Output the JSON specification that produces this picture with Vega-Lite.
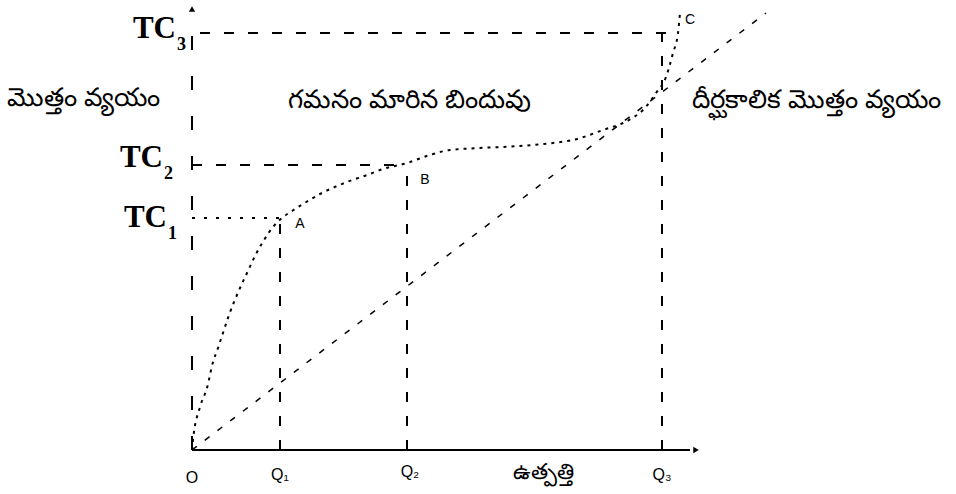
{
  "$schema": "https://vega.github.io/schema/vega-lite/v6.json",
  "width": 956,
  "height": 494,
  "autosize": {"type": "fit", "contains": "padding"},
  "padding": 0,
  "background": "white",
  "config": {"view": {"stroke": null}},
  "datasets": {
    "xaxis": [
      {"x": 0, "y": 0, "x2": 498, "y2": 0}
    ],
    "yaxis": [
      {"x": 0, "y": 0, "x2": 0, "y2": 438}
    ],
    "dotted": [
      {"x": 0, "y": 232, "x2": 88, "y2": 232}
    ],
    "dashed": [
      {"x": 0, "y": 285, "x2": 215, "y2": 285},
      {"x": 8, "y": 417, "x2": 486, "y2": 417},
      {"x": 88, "y": 0, "x2": 88, "y2": 232},
      {"x": 215, "y": 0, "x2": 215, "y2": 285},
      {"x": 470, "y": 0, "x2": 470, "y2": 417}
    ],
    "lrtc": [
      {"x": 0, "y": 0}, {"x": 1, "y": 10}, {"x": 8, "y": 43}, {"x": 15, "y": 62},
      {"x": 21, "y": 88}, {"x": 26, "y": 102}, {"x": 30, "y": 114}, {"x": 37, "y": 135},
      {"x": 48, "y": 162}, {"x": 55, "y": 177}, {"x": 63, "y": 194}, {"x": 72, "y": 210},
      {"x": 81, "y": 223}, {"x": 90, "y": 232}, {"x": 100, "y": 239}, {"x": 111, "y": 246},
      {"x": 128, "y": 256}, {"x": 155, "y": 268}, {"x": 175, "y": 275}, {"x": 191, "y": 281},
      {"x": 215, "y": 287}, {"x": 238, "y": 295}, {"x": 258, "y": 300}, {"x": 288, "y": 302},
      {"x": 328, "y": 304}, {"x": 361, "y": 307}, {"x": 381, "y": 310}, {"x": 411, "y": 320},
      {"x": 437, "y": 330}, {"x": 451, "y": 340}, {"x": 464, "y": 357}, {"x": 474, "y": 373},
      {"x": 481, "y": 397}, {"x": 486, "y": 417}, {"x": 488, "y": 437}
    ],
    "ray": [
      {"x": 0, "y": 0}, {"x": 574, "y": 437}
    ],
    "tc": [
      {"x": -16, "y": 412, "label": "TC", "sub": "3"},
      {"x": -29, "y": 283, "label": "TC", "sub": "2"},
      {"x": -25, "y": 223, "label": "TC", "sub": "1"}
    ],
    "telugu": [
      {"x": -185, "y": 352, "label": "మొత్తం వ్యయం"},
      {"x": 96, "y": 350, "label": "గమనం మారిన బిందువు"},
      {"x": 500, "y": 350, "label": "దీర్ఘకాలిక మొత్తం వ్యయం"}
    ],
    "output": [
      {"x": 321, "y": -22, "label": "ఉత్పత్తి"}
    ],
    "points": [
      {"x": 108, "y": 226, "label": "A"},
      {"x": 233, "y": 270, "label": "B"},
      {"x": 498, "y": 430, "label": "C"}
    ],
    "ticks": [
      {"x": 0, "y": -28, "label": "O"},
      {"x": 88, "y": -25, "label": "Q₁"},
      {"x": 218, "y": -22, "label": "Q₂"},
      {"x": 470, "y": -25, "label": "Q₃"}
    ]
  },
  "encoding": {
    "x": {"field": "x", "type": "quantitative", "axis": null, "scale": {"domain": [-192, 764], "nice": false, "zero": false}},
    "y": {"field": "y", "type": "quantitative", "axis": null, "scale": {"domain": [-44, 450], "nice": false, "zero": false}}
  },
  "layer": [
    {
      "data": {"name": "xaxis"},
      "mark": {"type": "rule", "color": "black", "strokeWidth": 2},
      "encoding": {"x2": {"field": "x2"}, "y2": {"field": "y2"}}
    },
    {
      "data": {"name": "yaxis"},
      "mark": {"type": "rule", "color": "black", "strokeWidth": 2, "strokeDash": [14, 26]},
      "encoding": {"x2": {"field": "x2"}, "y2": {"field": "y2"}}
    },
    {
      "data": {"values": [{"x": 504, "y": 0}]},
      "mark": {"type": "point", "shape": "triangle-right", "filled": true, "color": "black", "size": 40, "opacity": 1},
      "encoding": {}
    },
    {
      "data": {"values": [{"x": 0, "y": 441}]},
      "mark": {"type": "point", "shape": "triangle-up", "filled": true, "color": "black", "size": 40, "opacity": 1},
      "encoding": {}
    },
    {
      "data": {"name": "dotted"},
      "mark": {"type": "rule", "color": "black", "strokeWidth": 2, "strokeDash": [3, 9]},
      "encoding": {"x2": {"field": "x2"}, "y2": {"field": "y2"}}
    },
    {
      "data": {"name": "dashed"},
      "mark": {"type": "rule", "color": "black", "strokeWidth": 2, "strokeDash": [10, 14]},
      "encoding": {"x2": {"field": "x2"}, "y2": {"field": "y2"}}
    },
    {
      "data": {"name": "lrtc"},
      "mark": {"type": "line", "color": "black", "strokeWidth": 2, "strokeDash": [3, 5], "interpolate": "monotone"},
      "encoding": {}
    },
    {
      "data": {"name": "ray"},
      "mark": {"type": "line", "color": "black", "strokeWidth": 1.5, "strokeDash": [6, 10]},
      "encoding": {}
    },
    {
      "data": {"name": "tc"},
      "mark": {"type": "text", "font": "Liberation Serif", "fontWeight": "bold", "fontSize": 31, "align": "right", "baseline": "alphabetic", "color": "black"},
      "encoding": {"text": {"field": "label"}}
    },
    {
      "data": {"name": "tc"},
      "mark": {"type": "text", "font": "Liberation Serif", "fontWeight": "bold", "fontSize": 18, "align": "left", "baseline": "alphabetic", "dx": 1, "dy": 12, "color": "black"},
      "encoding": {"text": {"field": "sub"}}
    },
    {
      "data": {"name": "telugu"},
      "mark": {"type": "text", "fontSize": 26, "align": "left", "baseline": "middle", "color": "black"},
      "encoding": {"text": {"field": "label"}}
    },
    {
      "data": {"name": "output"},
      "mark": {"type": "text", "fontSize": 22, "align": "left", "baseline": "middle", "color": "black"},
      "encoding": {"text": {"field": "label"}}
    },
    {
      "data": {"name": "points"},
      "mark": {"type": "text", "font": "Liberation Sans", "fontSize": 14, "align": "center", "baseline": "middle", "color": "black"},
      "encoding": {"text": {"field": "label"}}
    },
    {
      "data": {"name": "ticks"},
      "mark": {"type": "text", "font": "Liberation Sans", "fontSize": 16, "align": "center", "baseline": "middle", "color": "black"},
      "encoding": {"text": {"field": "label"}}
    }
  ]
}
